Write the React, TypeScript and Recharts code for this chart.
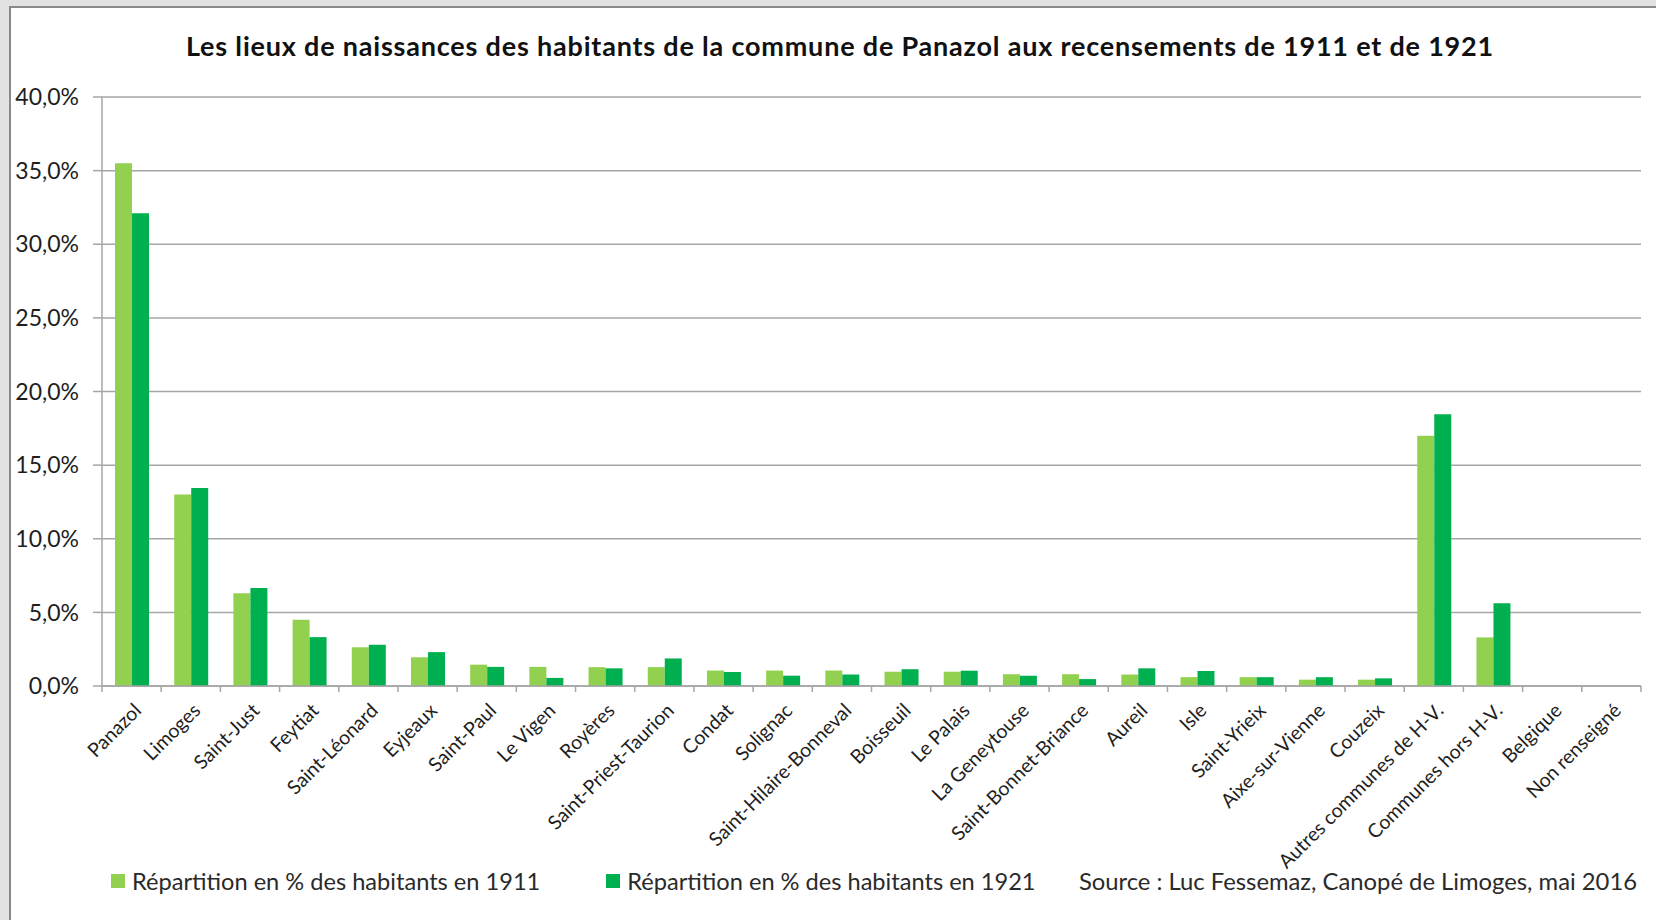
import { Bar, BarChart, CartesianGrid, XAxis, YAxis } from 'recharts';

const communes = [
  'Panazol', 'Limoges', 'Saint-Just', 'Feytiat', 'Saint-Léonard', 'Eyjeaux', 'Saint-Paul',
  'Le Vigen', 'Royères', 'Saint-Priest-Taurion', 'Condat', 'Solignac', 'Saint-Hilaire-Bonneval',
  'Boisseuil', 'Le Palais', 'La Geneytouse', 'Saint-Bonnet-Briance', 'Aureil', 'Isle',
  'Saint-Yrieix', 'Aixe-sur-Vienne', 'Couzeix', 'Autres communes de H-V.', 'Communes hors H-V.',
  'Belgique', 'Non renseigné',
];

const pct1911 = [
  35.5, 13.0, 6.3, 4.5, 2.63, 1.95, 1.45, 1.3, 1.28, 1.28, 1.05, 1.05, 1.05,
  0.97, 0.97, 0.8, 0.8, 0.78, 0.6, 0.6, 0.43, 0.43, 17.0, 3.3, 0, 0,
];

const pct1921 = [
  32.1, 13.45, 6.65, 3.32, 2.8, 2.3, 1.3, 0.55, 1.2, 1.87, 0.95, 0.7, 0.78,
  1.14, 1.04, 0.7, 0.47, 1.2, 1.02, 0.6, 0.6, 0.52, 18.45, 5.62, 0, 0,
];

const yTicks = [0, 5, 10, 15, 20, 25, 30, 35, 40];

const legendItems = [
  { label: 'Répartition en % des habitants en 1911', color: '#92D050' },
  { label: 'Répartition en % des habitants en 1921', color: '#00B050' },
];

const data = communes.map((name, i) => ({ name, a: pct1911[i], b: pct1921[i] }));

const FONT = 'Lato, "Open Sans", sans-serif';
const GRID = '#a6a6a6';
const TEXT = '#1e1e1e';

function fmtPct(v: number) {
  return v.toFixed(1).replace('.', ',') + '%';
}

function XTick(props: any) {
  const { x, y, payload, index } = props;
  const half = payload.offset ?? 0;
  const last = index === communes.length - 1;
  const tx = x + 6;
  const ty = y + 21;
  return (
    <g>
      <line x1={x - half} x2={x - half} y1={y} y2={y + 6} stroke={GRID} strokeWidth={1.5} />
      {last && <line x1={x + half} x2={x + half} y1={y} y2={y + 6} stroke={GRID} strokeWidth={1.5} />}
      <text
        x={tx}
        y={ty}
        textAnchor="end"
        dy="0.35em"
        transform={`rotate(-45, ${tx}, ${ty})`}
        style={{ fontFamily: FONT, fontSize: 19.5, fill: TEXT }}
      >
        {payload.value}
      </text>
    </g>
  );
}

export default function App() {
  return (
    <div style={{ position: 'relative', width: 1656, height: 920, background: '#e2e2e2', overflow: 'hidden' }}>
      <style>{'body{margin:0}'}</style>
      <div
        style={{
          position: 'absolute',
          left: 9,
          top: 6,
          width: 1660,
          height: 930,
          background: '#fff',
          borderLeft: '2px solid #8a8a8a',
          borderTop: '2px solid #8a8a8a',
        }}
      />
      <div style={{ position: 'absolute', left: 0, top: 0 }}>
        <BarChart
          width={1656}
          height={920}
          data={data}
          margin={{ top: 97, right: 15, bottom: 0, left: 0 }}
          barGap={0}
          barCategoryGap="22%"
        >
          <CartesianGrid vertical={false} stroke={GRID} strokeWidth={1.5} />
          <XAxis
            dataKey="name"
            interval={0}
            height={234}
            tickSize={0}
            tickMargin={0}
            tickLine={false}
            axisLine={{ stroke: GRID, strokeWidth: 1.5 }}
            tick={<XTick />}
          />
          <YAxis
            domain={[0, 40]}
            ticks={yTicks}
            width={102}
            tickSize={9}
            tickMargin={14}
            tickFormatter={fmtPct}
            axisLine={{ stroke: GRID, strokeWidth: 1.5 }}
            tickLine={{ stroke: GRID, strokeWidth: 1.5 }}
            tick={{ fontFamily: FONT, fontSize: 23, fill: TEXT }}
          />
          <Bar dataKey="a" fill="#92D050" isAnimationActive={false} />
          <Bar dataKey="b" fill="#00B050" isAnimationActive={false} />
        </BarChart>
      </div>
      <div
        style={{
          position: 'absolute',
          left: 0,
          width: 1680,
          top: 29,
          textAlign: 'center',
          fontFamily: FONT,
          fontWeight: 700,
          fontSize: 27,
          letterSpacing: 0.8,
          color: '#111',
          whiteSpace: 'nowrap',
        }}
      >
        Les lieux de naissances des habitants de la commune de Panazol aux recensements de 1911 et de 1921
      </div>
      <div
        style={{
          position: 'absolute',
          left: 111,
          top: 867,
          display: 'flex',
          alignItems: 'center',
          fontFamily: FONT,
          fontSize: 23.6,
          color: '#2a2a2a',
          whiteSpace: 'nowrap',
        }}
      >
        {legendItems.map((it, i) => (
          <div key={it.label} style={{ display: 'flex', alignItems: 'center', marginRight: i === 0 ? 66 : 0 }}>
            <span style={{ width: 14, height: 14, background: it.color, marginRight: 7, display: 'inline-block' }} />
            <span>{it.label}</span>
          </div>
        ))}
      </div>
      <div
        style={{
          position: 'absolute',
          right: 19,
          top: 867,
          fontFamily: FONT,
          fontSize: 23.8,
          color: '#2a2a2a',
          whiteSpace: 'nowrap',
        }}
      >
        Source : Luc Fessemaz, Canopé de Limoges, mai 2016
      </div>
    </div>
  );
}
